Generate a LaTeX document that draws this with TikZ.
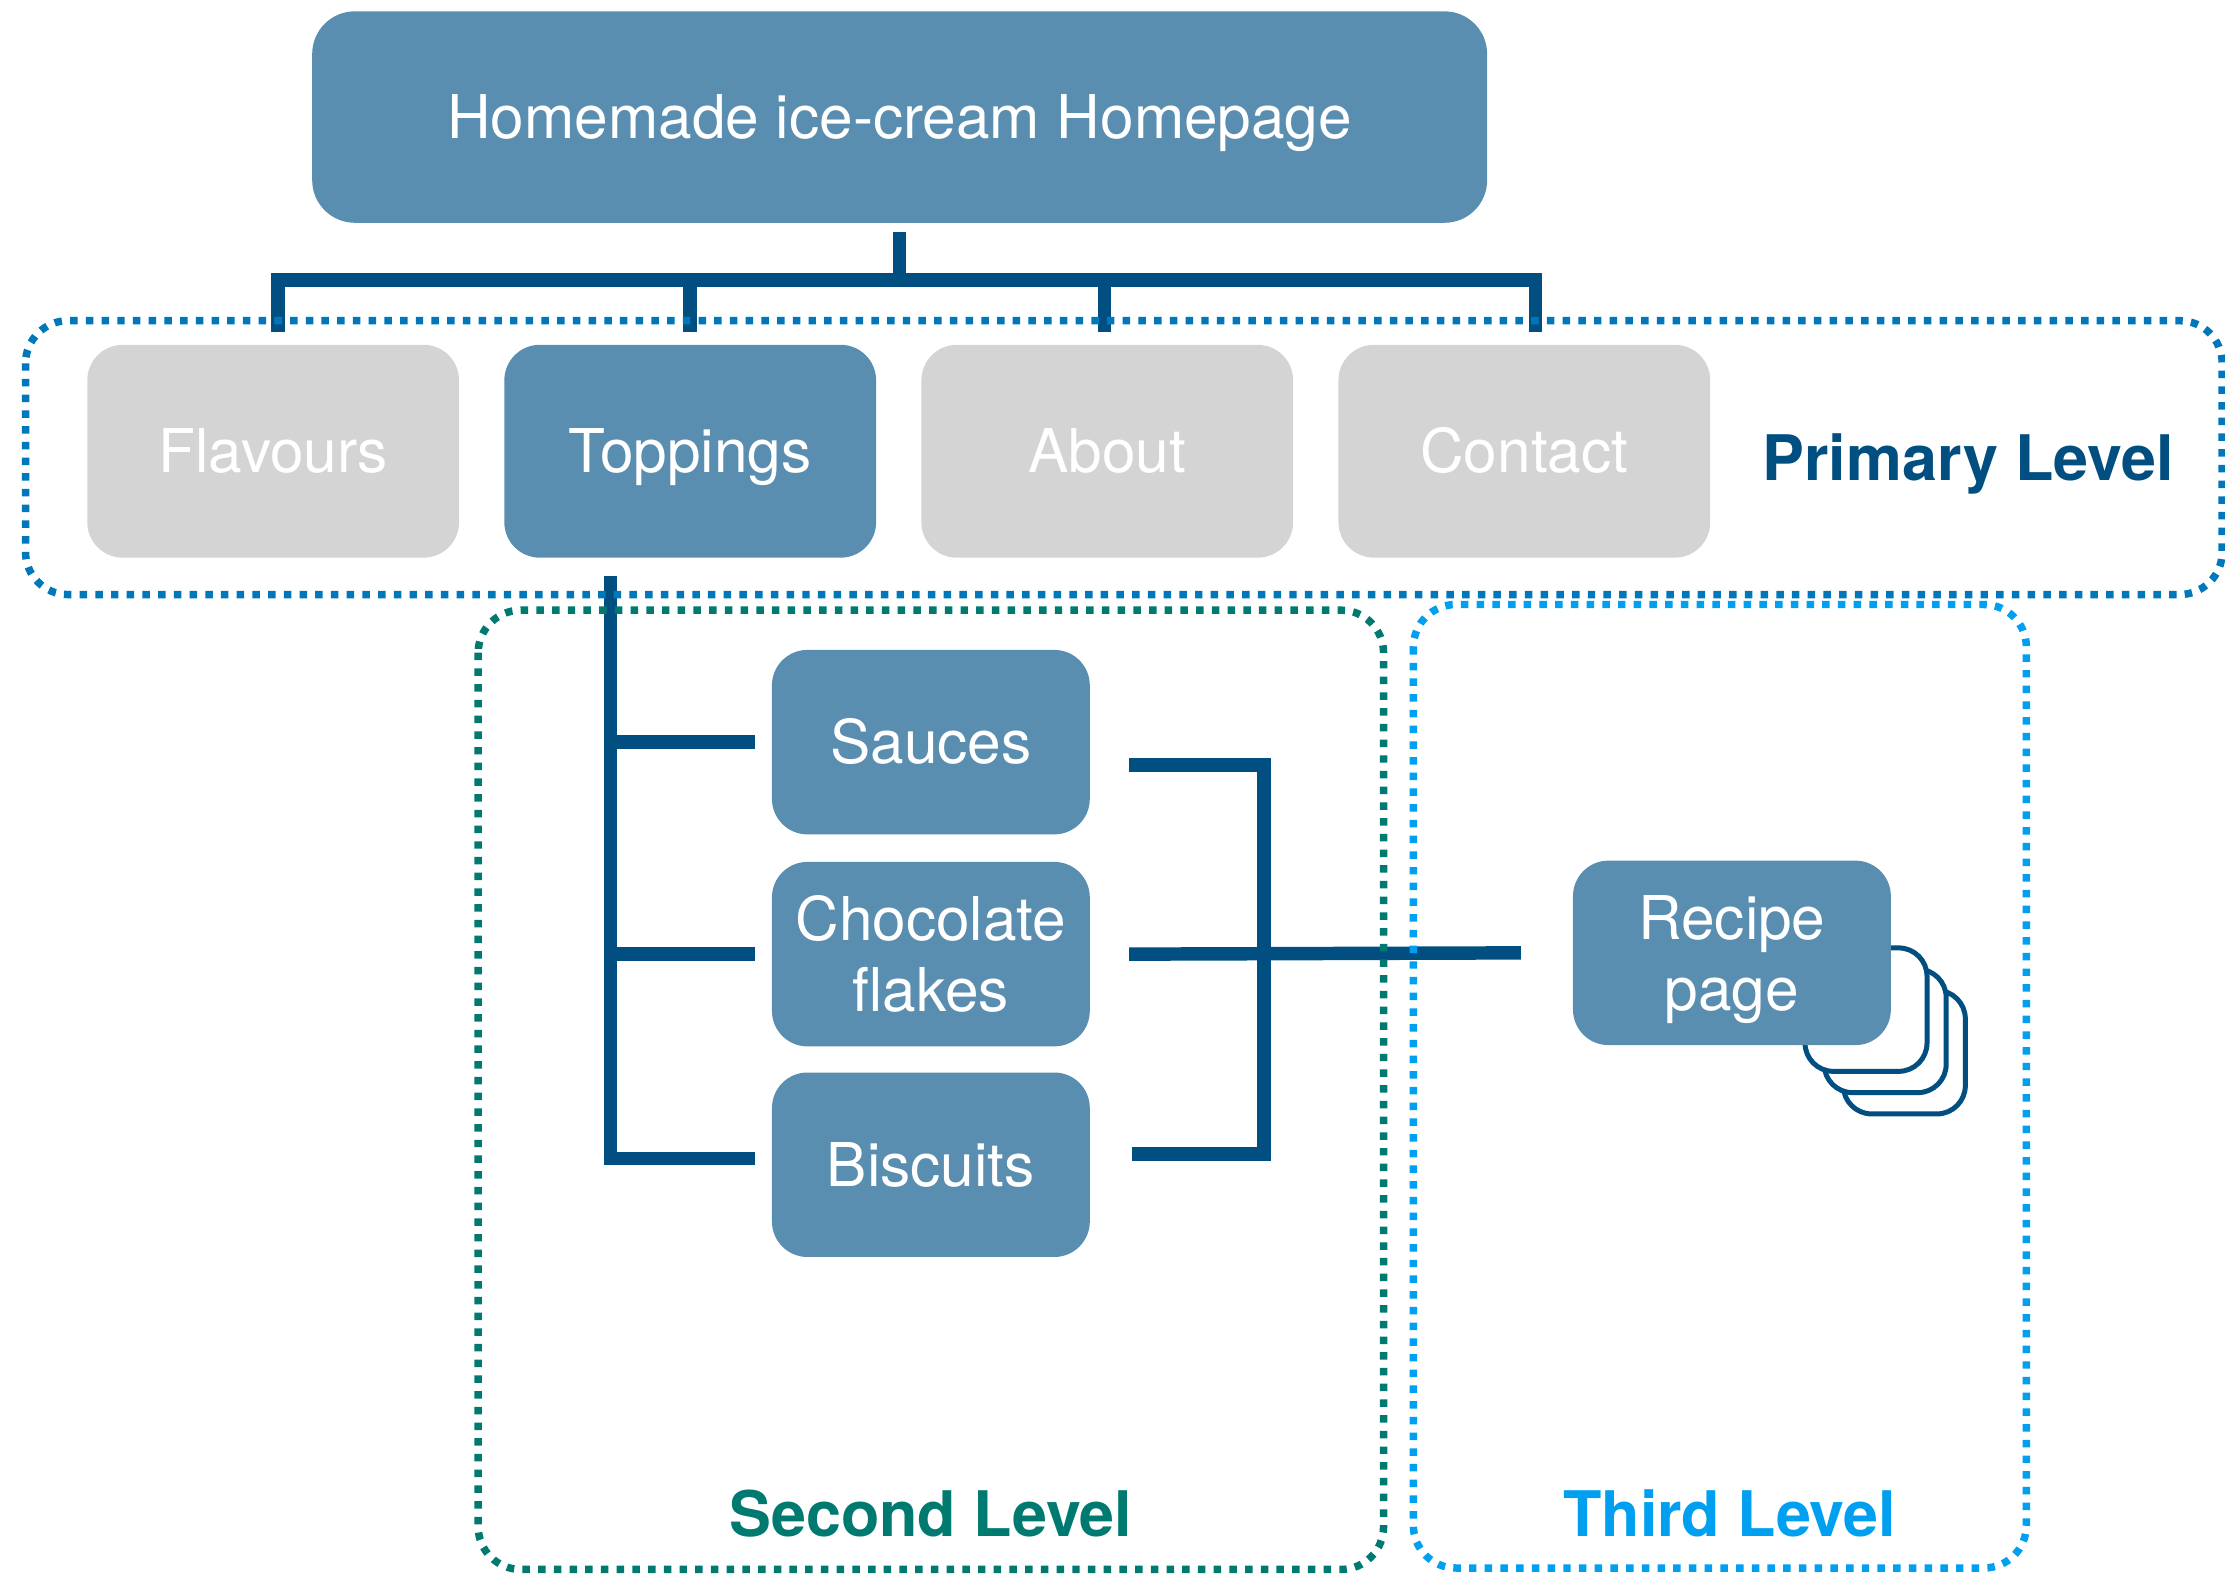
\documentclass[tikz,border=0pt]{standalone}
\usepackage{fontspec}
\setmainfont{TeX Gyre Heros}
\usetikzlibrary{positioning,calc}
\definecolor{boxblue}{HTML}{5A8EB0}
\definecolor{boxgrey}{HTML}{D4D4D4}
\definecolor{linkblue}{HTML}{004F80}
\definecolor{primdot}{HTML}{0077BB}
\definecolor{seconddot}{HTML}{007A70}
\definecolor{thirddot}{HTML}{009FEF}
\tikzset{
	navpage/.style={rectangle,rounded corners=0.25cm,fill=boxblue,text=white,minimum width=2.62cm,minimum height=1.5cm,
		font=\fontsize{12.1}{14.3}\selectfont,align=center,inner sep=0pt},
	greypage/.style={navpage,fill=boxgrey},
	subpage/.style={navpage,minimum width=2.24cm,minimum height=1.3cm},
	oneline/.style={text height=8.7pt,text depth=0pt},
	linkline/.style={draw=linkblue,line width=2.7pt},
	levelframe/.style={draw=#1,line width=1.5pt,dash pattern=on 1.5pt off 1.65pt,rounded corners=0.3cm},
	levellabel/.style={font=\fontsize{12.6}{15}\bfseries\selectfont,text=#1,text height=9.1pt,text depth=0pt},
	stackcard/.style={draw=linkblue,line width=1pt,fill=white,rounded corners=0.2cm}
}
\begin{document}
\begin{tikzpicture}
	\useasboundingbox (0,0) rectangle (15.68,-11.09);

	% homepage and primary level
	\node [navpage,oneline,minimum width=8.28cm,minimum height=1.49cm,rounded corners=0.3cm] (home) at (6.34,-0.825) {Homemade ice-cream Homepage};
	\node [greypage,oneline] (flavours) at (1.925,-3.18) {Flavours};
	\node [navpage,oneline,right=0.305cm of flavours] (toppings) {Toppings};
	\node [greypage,oneline,right=0.305cm of toppings] (about) {About};
	\node [greypage,oneline,right=0.305cm of about] (contact) {Contact};

	% second level
	\node [subpage,oneline] (sauces) at (6.56,-5.23) {Sauces};
	\node [subpage,below=0.18cm of sauces] (choc) {Chocolate\\flakes};
	\node [subpage,oneline,below=0.17cm of choc] (biscuits) {Biscuits};

	% third level, stack of pages behind
	\foreach \i in {2,1,0}
		\draw [stackcard] ($(12.72,-6.68)+(0.135*\i,-0.15*\i)$) rectangle ++(0.86,-0.87);
	\node [subpage] (recipe) at (12.205,-6.715) {Recipe\\\smash{page}};

	% connectors
	\coordinate (hub) at ($(home.south)+(0,-0.395)$);
	\draw [linkline] ($(home.south)+(0,-0.06)$) -- (hub);
	\draw [linkline,line cap=rect] ([xshift=0.035cm]flavours.north |- hub) -- ([xshift=0.08cm]contact.north |- hub);
	\foreach \n/\dx in {flavours/0.035,toppings/0,about/-0.02,contact/0.08}
		\draw [linkline] ([xshift=\dx cm]\n.north |- hub) -- ([shift={(\dx,0.08)}]\n.north);

	\coordinate (spine) at ($(toppings.south)+(-0.56,-0.12)$);
	\draw [linkline] (spine) |- ([shift={(-0.11,0.045)}]biscuits.west);
	\foreach \n in {sauces,choc}
		\draw [linkline] (spine |- \n.west) -- ([xshift=-0.11cm]\n.west);

	\coordinate (joint) at ($(choc.east)+(1.22,0)$);
	\draw [linkline] ([shift={(0.27,-0.16)}]sauces.east) -| (joint) |- ([shift={(0.29,0.075)}]biscuits.east);
	\draw [linkline] ([xshift=0.27cm]choc.east) -- ([xshift=-0.36cm]recipe.west);

	% level frames
	\draw [levelframe=primdot] (0.18,-2.26) rectangle (15.66,-4.19);
	\draw [levelframe=seconddot] (3.37,-4.30) rectangle (9.75,-11.06);
	\draw [levelframe=thirddot] (9.96,-4.26) rectangle (14.28,-11.05);

	\node [levellabel=linkblue] (primlabel) at (13.87,-3.225) {Primary Level};
	\node [levellabel=seconddot] (secondlabel) at (6.56,-10.67) {Second Level};
	\node [levellabel=thirddot] (thirdlabel) at (12.19,-10.67) {Third Level};
\end{tikzpicture}
\end{document}
